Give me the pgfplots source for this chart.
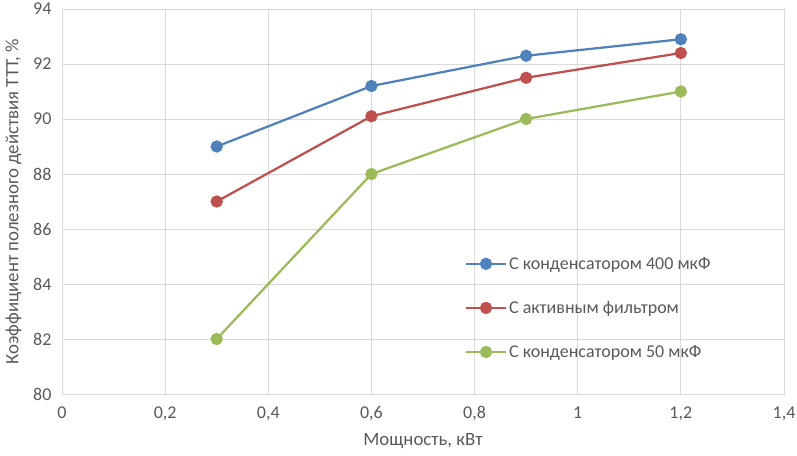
\documentclass[border=0pt]{standalone}
\usepackage{fontspec}
\setmainfont{Carlito}
\usepackage{pgfplots}
\pgfplotsset{compat=1.18}
\definecolor{sBlue}{HTML}{4F81BD}
\definecolor{sRed}{HTML}{C0504D}
\definecolor{sGreen}{HTML}{9BBB59}
\definecolor{gridc}{HTML}{D9D9D9}
\definecolor{txt}{HTML}{595959}
\begin{document}
\begin{tikzpicture}
\begin{axis}[
  name=ax,
  scale only axis,
  width=722bp, height=385bp,
  xmin=0, xmax=1.4, ymin=80, ymax=94,
  xtick={0,0.2,...,1.4}, ytick={80,82,...,94},
  grid=major,
  major grid style={gridc, line width=0.75bp},
  axis line style={gridc, line width=0.75bp},
  major tick length=0pt,
  tick label style={font=\fontsize{18bp}{20bp}\selectfont, text=txt},
  /pgf/number format/assume math mode=true,
  /pgf/number format/use comma,
  xticklabel style={yshift=-9bp},
  yticklabel style={xshift=-7bp},
  xlabel={Мощность, кВт},
  ylabel={Коэффициент полезного действия ТТТ, \%},
  xlabel style={yshift=-5.5bp},
  ylabel style={yshift=5bp},
  label style={font=\fontsize{18.8bp}{21bp}\selectfont, text=txt},
  legend style={draw=none, fill=none, at={(axis cs:0.775,83.13)}, anchor=west,
    font=\fontsize{18bp}{20bp}\selectfont, text=txt, row sep=26.5bp},
  legend cell align=left,
  legend image code/.code={\draw[mark repeat=2,mark phase=2,#1] plot coordinates {(0bp,0bp)(20bp,0bp)(40bp,0bp)};},
  every axis plot/.append style={line width=2.25bp, mark=*, mark size=5bp},
]
\addplot[sBlue, mark options={fill=sBlue}] coordinates {(0.3,89) (0.6,91.2) (0.9,92.3) (1.2,92.9)};
\addlegendentry{С конденсатором 400 мкФ}
\addplot[sRed, mark options={fill=sRed}] coordinates {(0.3,87) (0.6,90.1) (0.9,91.5) (1.2,92.4)};
\addlegendentry{С активным фильтром}
\addplot[sGreen, mark options={fill=sGreen}] coordinates {(0.3,82) (0.6,88) (0.9,90) (1.2,91)};
\addlegendentry{С конденсатором 50 мкФ}
\end{axis}
\pgfresetboundingbox
\path (ax.south west) ++(-62bp,-62bp) rectangle ([shift={(13bp,9bp)}]ax.north east);
\end{tikzpicture}
\end{document}
